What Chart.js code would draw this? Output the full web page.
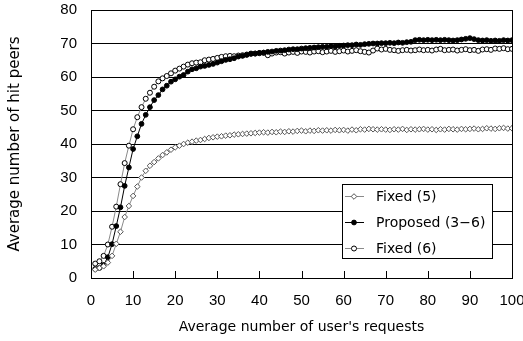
<!DOCTYPE html>
<html>
<head>
<meta charset="utf-8">
<style>
  html, body { margin: 0; padding: 0; background: #fff; }
  #wrap { width: 523px; height: 341px; }
</style>
<script src="https://cdn.jsdelivr.net/npm/chart.js@4/dist/chart.umd.min.js"></script>
</head>
<body>
<div id="wrap"><canvas id="chart" width="523" height="341"></canvas></div>
<script>
// ---- Data ------------------------------------------------------------------
// x = average number of user's requests (1..100), y = average number of hit peers
const requests = Array.from({ length: 100 }, (_, i) => i + 1);

const fixed5 = [
    2.5, 3.0, 3.5, 4.6, 6.6, 10.2, 13.8, 18.2, 21.5, 24.5,
    27.3, 30.0, 32.0, 33.5, 34.6, 35.7, 36.7, 37.5, 38.3, 39.0,
    39.5, 40.0, 40.4, 40.7, 41.0, 41.2, 41.5, 41.8, 42.0, 42.2,
    42.3, 42.5, 42.6, 42.8, 42.9, 43.0, 43.1, 43.2, 43.3, 43.4,
    43.5, 43.4, 43.6, 43.5, 43.7, 43.6, 43.8, 43.7, 43.9, 44.0,
    43.8, 44.0, 43.9, 44.1, 44.0, 44.1, 44.0, 44.2, 44.1, 44.2,
    44.0, 44.3, 44.1, 44.4, 44.3, 44.5, 44.4, 44.3, 44.4, 44.3,
    44.2, 44.4, 44.3, 44.5, 44.2, 44.4, 44.3, 44.4, 44.5, 44.3,
    44.4, 44.2, 44.4, 44.3, 44.5, 44.4, 44.3, 44.5, 44.4, 44.5,
    44.6, 44.4, 44.5, 44.7, 44.6, 44.5, 44.7, 44.8, 44.6, 44.7
];

const proposed = [
    2.7, 3.0, 3.9, 6.2, 10.1, 15.5, 21.1, 27.5, 33.0, 38.5,
    42.3, 46.0, 48.7, 51.0, 53.1, 54.6, 56.3, 57.4, 58.6, 59.3,
    60.1, 60.6, 61.6, 62.3, 62.6, 63.1, 63.3, 63.6, 63.9, 64.3,
    64.7, 65.1, 65.3, 65.6, 66.1, 66.3, 66.6, 66.9, 67.0, 67.2,
    67.3, 67.5, 67.6, 67.8, 67.9, 68.0, 68.2, 68.3, 68.3, 68.5,
    68.6, 68.7, 68.8, 68.9, 69.0, 69.0, 69.2, 69.1, 69.3, 69.4,
    69.5, 69.5, 69.7, 69.6, 69.8, 69.9, 70.0, 70.0, 70.1, 70.1,
    70.2, 70.1, 70.3, 70.2, 70.4, 70.5, 71.0, 71.1, 71.0, 71.1,
    71.0, 71.1, 71.0, 71.1, 71.0, 70.9, 71.0, 71.2, 71.4, 71.6,
    71.3, 71.0, 70.9, 71.0, 70.8, 70.9, 70.8, 71.0, 70.9, 71.0
];

const fixed6 = [
    4.3, 5.0, 6.6, 10.0, 15.3, 21.3, 28.0, 34.3, 39.5, 44.4,
    48.0, 51.0, 53.5, 55.3, 57.1, 58.7, 59.6, 60.3, 61.1, 61.9,
    62.5, 63.1, 63.7, 64.1, 64.3, 64.4, 65.0, 65.2, 65.4, 65.7,
    66.0, 66.2, 66.3, 66.2, 66.4, 66.5, 66.7, 67.0, 67.0, 67.1,
    67.2, 66.5, 67.0, 67.3, 67.4, 67.0, 67.3, 67.5, 67.2, 67.6,
    67.5, 67.3, 67.6, 67.7, 67.4, 67.6, 67.8, 67.5, 67.7, 67.9,
    67.6, 67.8, 68.0, 67.7, 67.5, 67.3, 67.9, 68.5, 68.2, 68.4,
    68.1, 68.0, 67.8, 68.0, 68.1, 67.9, 68.0, 68.2, 68.0, 68.1,
    67.9, 68.2, 68.4, 68.0, 68.1, 68.2, 67.9, 68.1, 68.3, 68.0,
    68.1, 67.8, 68.2, 68.3, 68.1, 68.5, 68.4, 68.6, 68.3, 68.4
];

const seriesNames = ["Fixed (5)", "Proposed (3\u22126)", "Fixed (6)"];
const xTicks = [0, 10, 20, 30, 40, 50, 60, 70, 80, 90, 100];
const yTicks = [0, 10, 20, 30, 40, 50, 60, 70, 80];

// ---- Helpers ---------------------------------------------------------------
const FONT = "'Liberation Sans', Arial, sans-serif";
const WIDE = "'DejaVu Sans', sans-serif";
const toPoints = (ys) => ys.map((y, i) => ({ x: requests[i], y }));

// frame around plot area + inward ticks on the x axis
const framePlugin = {
    id: "frame",
    afterDatasetsDraw(chart) {
        const { ctx, chartArea: a, scales } = chart;
        ctx.save();
        ctx.strokeStyle = "#000";
        ctx.lineWidth = 1;
        ctx.beginPath();
        xTicks.forEach((t) => {
            const px = Math.round(scales.x.getPixelForValue(t)) + 0.5;
            ctx.moveTo(px, a.bottom);
            ctx.lineTo(px, a.bottom - 7);
        });
        ctx.stroke();
        ctx.strokeRect(Math.round(a.left) + 0.5, Math.round(a.top) + 0.5,
            Math.round(a.right - a.left), Math.round(a.bottom - a.top));
        ctx.restore();
    },
};

// boxed legend inside the plot, lower right
const legendPlugin = {
    id: "boxLegend",
    afterDraw(chart) {
        const { ctx } = chart;
        const box = { x: 342, y: 184, w: 150, h: 74 };
        ctx.save();
        ctx.fillStyle = "#fff";
        ctx.fillRect(box.x, box.y, box.w, box.h);
        ctx.strokeStyle = "#000";
        ctx.lineWidth = 1;
        ctx.strokeRect(box.x + 0.5, box.y + 0.5, box.w, box.h);
        ctx.font = "14px " + WIDE;
        ctx.textBaseline = "middle";
        chart.data.datasets.forEach((ds, i) => {
            const cy = box.y + 12.5 + i * 26;
            const mx = box.x + 12;
            const r = ds.pointRadius;
            ctx.strokeStyle = ds.borderColor;
            ctx.beginPath();
            ctx.moveTo(box.x + 3, cy);
            ctx.lineTo(box.x + 22, cy);
            ctx.stroke();
            ctx.fillStyle = ds.pointBackgroundColor;
            ctx.strokeStyle = ds.pointBorderColor;
            ctx.beginPath();
            if (ds.pointStyle === "rectRot") {
                ctx.moveTo(mx, cy - r);
                ctx.lineTo(mx + r, cy);
                ctx.lineTo(mx, cy + r);
                ctx.lineTo(mx - r, cy);
                ctx.closePath();
            } else {
                ctx.arc(mx, cy, r, 0, Math.PI * 2);
            }
            ctx.fill();
            ctx.stroke();
            ctx.fillStyle = "#000";
            ctx.fillText(ds.label, box.x + 34, cy + 0.5);
        });
        ctx.restore();
    },
};

// ---- Chart -----------------------------------------------------------------
new Chart(document.getElementById("chart"), {
    type: "line",
    data: {
        datasets: [
            {
                label: seriesNames[0],
                data: toPoints(fixed5),
                borderColor: "#8a8a8a",
                borderWidth: 1,
                pointStyle: "rectRot",
                pointRadius: 2.8,
                pointBorderWidth: 1,
                pointBorderColor: "#555",
                pointBackgroundColor: "#fff",
            },
            {
                label: seriesNames[1],
                data: toPoints(proposed),
                borderColor: "#000",
                borderWidth: 1,
                pointStyle: "circle",
                pointRadius: 2.4,
                pointBorderWidth: 1,
                pointBorderColor: "#000",
                pointBackgroundColor: "#000",
            },
            {
                label: seriesNames[2],
                data: toPoints(fixed6),
                borderColor: "#8a8a8a",
                borderWidth: 1,
                pointStyle: "circle",
                pointRadius: 2.5,
                pointBorderWidth: 1,
                pointBorderColor: "#000",
                pointBackgroundColor: "#fff",
            },
        ],
    },
    options: {
        responsive: false,
        animation: false,
        events: [],
        layout: { padding: { top: 10, right: 11, bottom: 0, left: 0 } },
        plugins: { legend: { display: false }, tooltip: { enabled: false } },
        scales: {
            x: {
                type: "linear",
                min: 0,
                max: 100,
                afterBuildTicks: (s) => { s.ticks = xTicks.map((v) => ({ value: v })); },
                afterFit: (s) => { s.height = 63; s.paddingLeft = 0; s.paddingRight = 0; },
                grid: { display: false, drawTicks: false },
                border: { display: false },
                ticks: { color: "#000", font: { family: FONT, size: 15 }, padding: 14, maxRotation: 0, autoSkip: false },
                title: {
                    display: true,
                    text: "Average number of user's requests",
                    color: "#000",
                    font: { family: WIDE, size: 14 },
                    padding: { top: 0, bottom: 5 },
                },
            },
            y: {
                min: 0,
                max: 80,
                afterBuildTicks: (s) => { s.ticks = yTicks.map((v) => ({ value: v })); },
                afterFit: (s) => { s.width = 91; s.paddingTop = 0; s.paddingBottom = 0; },
                grid: { color: "#000", lineWidth: 1, drawTicks: false },
                border: { display: false },
                ticks: { color: "#000", font: { family: FONT, size: 15 }, padding: 14 },
                title: {
                    display: true,
                    text: "Average number of hit peers",
                    color: "#000",
                    font: { family: WIDE, size: 15 },
                    padding: { top: 6, bottom: 0 },
                },
            },
        },
    },
    plugins: [framePlugin, legendPlugin],
});
</script>
</body>
</html>
